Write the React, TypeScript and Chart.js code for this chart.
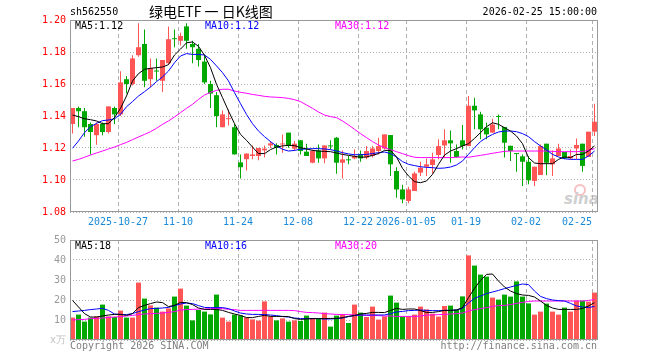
import React, { useEffect, useRef } from 'react';
import { Chart, registerables } from 'chart.js';

Chart.register(...registerables);

// ---------- data ----------
const dates = [
  '2025-10-15', '2025-10-16', '2025-10-17', '2025-10-20', '2025-10-21', '2025-10-22', '2025-10-23', '2025-10-24',
  '2025-10-27', '2025-10-28', '2025-10-29', '2025-10-30', '2025-10-31',
  '2025-11-03', '2025-11-04', '2025-11-05', '2025-11-06', '2025-11-07',
  '2025-11-10', '2025-11-11', '2025-11-12', '2025-11-13', '2025-11-14',
  '2025-11-17', '2025-11-18', '2025-11-19', '2025-11-20', '2025-11-21',
  '2025-11-24', '2025-11-25', '2025-11-26', '2025-11-27', '2025-11-28',
  '2025-12-01', '2025-12-02', '2025-12-03', '2025-12-04', '2025-12-05',
  '2025-12-08', '2025-12-09', '2025-12-10', '2025-12-11', '2025-12-12',
  '2025-12-15', '2025-12-16', '2025-12-17', '2025-12-18', '2025-12-19',
  '2025-12-22', '2025-12-23', '2025-12-24', '2025-12-25', '2025-12-26',
  '2025-12-29', '2025-12-30', '2025-12-31',
  '2026-01-05', '2026-01-06', '2026-01-07', '2026-01-08', '2026-01-09',
  '2026-01-12', '2026-01-13', '2026-01-14', '2026-01-15', '2026-01-16',
  '2026-01-19', '2026-01-20', '2026-01-21', '2026-01-22', '2026-01-23',
  '2026-01-26', '2026-01-27', '2026-01-28', '2026-01-29', '2026-01-30',
  '2026-02-02', '2026-02-03', '2026-02-04', '2026-02-05', '2026-02-06',
  '2026-02-09', '2026-02-10', '2026-02-11', '2026-02-12', '2026-02-13',
  '2026-02-24', '2026-02-25',
];

const open = [
  1.135, 1.145, 1.143, 1.135, 1.128, 1.135, 1.130, 1.145, 1.141, 1.163,
  1.160, 1.178, 1.185, 1.163, 1.1682, 1.162, 1.173, 1.1885, 1.187, 1.196,
  1.185, 1.182, 1.174, 1.160, 1.153, 1.133, 1.138, 1.133, 1.111, 1.113,
  1.115, 1.115, 1.1185, 1.1216, 1.1219, 1.1222, 1.1296, 1.1196, 1.1248, 1.1177,
  1.1108, 1.1185, 1.1135, 1.1214, 1.1264, 1.1108, 1.1127, 1.1135, 1.116, 1.114,
  1.115, 1.1181, 1.1197, 1.1281, 1.1056, 1.0941, 1.0869, 1.0931, 1.1046, 1.1083,
  1.1094, 1.1156, 1.1216, 1.1248, 1.1181, 1.1248, 1.1212, 1.1464, 1.141, 1.1327,
  1.1296, 1.1398, 1.1331, 1.1214, 1.1166, 1.1148, 1.1114, 1.0994, 1.1031, 1.1227,
  1.1098, 1.115, 1.1175, 1.1135, 1.1197, 1.1227, 1.1144, 1.1302,
];

const high = [
  1.145, 1.146, 1.145, 1.136, 1.136, 1.136, 1.146, 1.146, 1.168, 1.165,
  1.178, 1.198, 1.194, 1.176, 1.176, 1.175, 1.196, 1.194, 1.192, 1.198,
  1.187, 1.185, 1.178, 1.162, 1.155, 1.1435, 1.144, 1.135, 1.116, 1.1165,
  1.1216, 1.120, 1.1216, 1.1244, 1.1229, 1.1285, 1.1296, 1.1244, 1.125, 1.1227,
  1.1191, 1.1222, 1.1216, 1.1248, 1.1268, 1.1185, 1.115, 1.1191, 1.1185, 1.1212,
  1.1212, 1.1264, 1.1285, 1.1281, 1.108, 1.097, 1.0958, 1.1052, 1.1114, 1.1135,
  1.117, 1.1254, 1.1317, 1.131, 1.1222, 1.1344, 1.1525, 1.1514, 1.1427, 1.1358,
  1.1383, 1.141, 1.1331, 1.1214, 1.1166, 1.116, 1.115, 1.1083, 1.1222, 1.1227,
  1.1185, 1.1227, 1.1175, 1.1191, 1.126, 1.1227, 1.1302, 1.1477,
];

const low = [
  1.129, 1.133, 1.127, 1.116, 1.122, 1.128, 1.129, 1.135, 1.140, 1.154,
  1.159, 1.177, 1.158, 1.158, 1.162, 1.155, 1.172, 1.183, 1.184, 1.182,
  1.173, 1.171, 1.160, 1.145, 1.133, 1.133, 1.134, 1.116, 1.101, 1.106,
  1.113, 1.1123, 1.114, 1.120, 1.116, 1.117, 1.1202, 1.1181, 1.116, 1.115,
  1.1104, 1.1108, 1.1104, 1.119, 1.1039, 1.101, 1.1098, 1.1129, 1.1114, 1.113,
  1.114, 1.116, 1.1191, 1.1025, 1.0889, 1.0854, 1.0854, 1.0931, 1.1025, 1.1025,
  1.104, 1.113, 1.114, 1.1108, 1.114, 1.119, 1.1212, 1.1317, 1.1254, 1.1254,
  1.1296, 1.1317, 1.114, 1.1119, 1.1052, 1.0963, 1.0973, 1.0963, 1.1031, 1.1031,
  1.1025, 1.115, 1.1129, 1.1129, 1.1129, 1.1052, 1.1144, 1.1275,
];

const close = [
  1.145, 1.143, 1.133, 1.130, 1.135, 1.130, 1.146, 1.141, 1.161, 1.160,
  1.176, 1.183, 1.162, 1.170, 1.1678, 1.175, 1.188, 1.188, 1.190, 1.187,
  1.183, 1.175, 1.161, 1.154, 1.140, 1.141, 1.1386, 1.116, 1.108, 1.1165,
  1.116, 1.120, 1.1196, 1.1229, 1.1202, 1.1228, 1.1213, 1.1227, 1.1181, 1.115,
  1.1181, 1.1135, 1.1216, 1.121, 1.1108, 1.1129, 1.1123, 1.115, 1.1135, 1.1181,
  1.1197, 1.1212, 1.1285, 1.1098, 1.0941, 1.0879, 1.0941, 1.1041, 1.1077, 1.1098,
  1.1129, 1.1212, 1.1248, 1.1229, 1.1144, 1.1212, 1.1464, 1.1435, 1.1317, 1.1285,
  1.1347, 1.1394, 1.1233, 1.1181, 1.1162, 1.1114, 1.0998, 1.1083, 1.1212, 1.1108,
  1.1135, 1.1197, 1.1135, 1.115, 1.1219, 1.1088, 1.1302, 1.1364,
];

const ma5 = [
  1.1406, 1.1396, 1.1383, 1.1377, 1.1369, 1.1352, 1.1352, 1.139, 1.1448, 1.1525,
  1.1619, 1.1665, 1.1692, 1.1698, 1.1702, 1.1706, 1.1721, 1.1781, 1.1818, 1.1857,
  1.1863, 1.1835, 1.178, 1.1702, 1.1598, 1.1515, 1.1431, 1.1352, 1.1285, 1.1248,
  1.1206, 1.1165, 1.1165, 1.119, 1.1206, 1.1213, 1.1217, 1.1215, 1.1202, 1.1194,
  1.1185, 1.1181, 1.1179, 1.1177, 1.1169, 1.116, 1.1154, 1.1148, 1.1142, 1.1144,
  1.1154, 1.1165, 1.1185, 1.1185, 1.1144, 1.1073, 1.1025, 1.099, 1.0983, 1.0994,
  1.1035, 1.1098, 1.1156, 1.1181, 1.1196, 1.1213, 1.1227, 1.126, 1.1296, 1.1333,
  1.1358, 1.1348, 1.1327, 1.1306, 1.1275, 1.1227, 1.114, 1.1106, 1.1102, 1.1102,
  1.1102, 1.1129, 1.1144, 1.114, 1.116, 1.116, 1.1181, 1.1213,
];

const ma10 = [
  1.1198, 1.1244, 1.1296, 1.1333, 1.1354, 1.1371, 1.1375, 1.1383, 1.141, 1.1458,
  1.149, 1.1525, 1.1552, 1.1581, 1.1615, 1.1644, 1.1681, 1.1733, 1.1775, 1.179,
  1.1785, 1.1785, 1.1781, 1.1754, 1.1713, 1.1671, 1.1619, 1.1546, 1.1477, 1.141,
  1.1352, 1.1306, 1.1271, 1.124, 1.1213, 1.1192, 1.1181, 1.1185, 1.1192, 1.1194,
  1.1196, 1.1196, 1.1194, 1.119, 1.1181, 1.1171, 1.1163, 1.1158, 1.1158, 1.116,
  1.1165, 1.1171, 1.1175, 1.1165, 1.1144, 1.1115, 1.1098, 1.109, 1.1083, 1.1079,
  1.1077, 1.1073, 1.1075, 1.1081, 1.1094, 1.1119, 1.116, 1.1202, 1.124, 1.1265,
  1.1285, 1.13, 1.1306, 1.1306, 1.1302, 1.129, 1.1271, 1.124, 1.1213, 1.1188,
  1.116, 1.1144, 1.1133, 1.1129, 1.1129, 1.1129, 1.115, 1.1181,
];

const ma30 = [
  1.1119, 1.1129, 1.1142, 1.1156, 1.1169, 1.1181, 1.1194, 1.1206, 1.1221, 1.1235,
  1.1252, 1.1269, 1.1285, 1.1302, 1.1323, 1.1348, 1.1369, 1.1394, 1.1421, 1.1448,
  1.1473, 1.1504, 1.1531, 1.1548, 1.156, 1.1567, 1.1567, 1.1556, 1.1548, 1.1542,
  1.1535, 1.1529, 1.1523, 1.1519, 1.1517, 1.1515, 1.151, 1.1502, 1.149, 1.1469,
  1.1448, 1.1425, 1.1406, 1.1396, 1.139, 1.1369, 1.1344, 1.1317, 1.129, 1.1265,
  1.124, 1.1219, 1.1202, 1.119, 1.1177, 1.1165, 1.1152, 1.1142, 1.114, 1.114,
  1.114, 1.114, 1.114, 1.114, 1.1142, 1.1144, 1.1142, 1.1148, 1.1154, 1.116,
  1.1167, 1.1173, 1.1179, 1.1181, 1.1181, 1.1181, 1.1181, 1.1181, 1.1181, 1.1181,
  1.1179, 1.1177, 1.1177, 1.1177, 1.1177, 1.1179, 1.1185, 1.1196,
];

const volume = [
  11.2, 12.7, 9.2, 11.2, 11.8, 17.7, 11.8, 11.5, 14.7, 11.2,
  11.2, 28.7, 20.7, 17.3, 16.2, 14.2, 15.8, 21.7, 25.7, 17.2,
  9.8, 15.0, 14.2, 12.8, 22.7, 11.2, 9.2, 12.7, 12.3, 11.2,
  10.3, 9.7, 19.3, 11.8, 9.8, 10.8, 9.2, 9.8, 9.5, 12.2,
  10.8, 10.7, 13.7, 6.7, 12.2, 13.0, 8.5, 17.7, 13.7, 11.5,
  16.7, 10.2, 11.8, 22.2, 18.7, 11.7, 12.0, 12.7, 16.7, 15.3,
  13.2, 11.7, 17.0, 17.2, 15.2, 21.8, 42.3, 37.2, 32.7, 31.7,
  21.2, 20.2, 22.7, 21.7, 29.3, 21.7, 18.3, 12.7, 14.2, 18.2,
  14.2, 12.7, 16.2, 14.2, 19.7, 19.7, 19.2, 23.7,
];

const vma5 = [
  19.8, 16.5, 13.2, 11.5, 11.5, 12.0, 12.5, 12.8, 12.8, 12.3,
  13.2, 16.2, 17.3, 18.2, 19.0, 18.7, 16.7, 17.3, 18.8, 18.7,
  17.7, 16.0, 15.3, 15.3, 15.3, 14.8, 13.8, 13.0, 12.3, 11.2,
  11.2, 11.8, 12.3, 11.8, 11.8, 11.8, 11.7, 10.7, 10.3, 10.5,
  10.7, 10.7, 10.7, 10.8, 10.8, 11.2, 11.8, 12.3, 13.0, 13.3,
  13.8, 13.8, 13.7, 14.8, 15.8, 15.3, 15.5, 15.5, 14.7, 13.8,
  13.8, 14.2, 14.8, 14.8, 15.0, 16.2, 21.2, 25.8, 29.8, 32.8,
  33.0, 29.5, 26.5, 24.5, 23.2, 22.5, 22.3, 21.5, 19.5, 17.3,
  16.0, 15.3, 15.3, 15.3, 15.3, 15.8, 17.0, 18.7,
];

const vma10 = [
  14.2, 14.5, 14.8, 15.2, 15.5, 15.8, 14.8, 13.0, 12.8, 12.7,
  13.2, 14.2, 15.0, 15.7, 15.8, 16.0, 16.3, 17.2, 18.0, 18.5,
  18.2, 17.2, 16.3, 16.2, 16.2, 16.2, 15.7, 14.5, 13.5, 13.0,
  12.8, 12.8, 12.7, 12.5, 12.2, 11.7, 11.5, 11.0, 10.7, 10.7,
  10.7, 10.7, 10.5, 10.5, 10.7, 11.0, 11.7, 12.2, 12.5, 12.5,
  12.5, 12.5, 12.5, 13.2, 14.0, 14.3, 14.7, 14.8, 15.0, 14.8,
  14.7, 14.7, 14.8, 14.8, 15.0, 15.8, 18.5, 20.8, 22.0, 23.2,
  24.0, 24.8, 25.7, 26.5, 27.3, 28.0, 27.7, 24.5, 21.8, 20.7,
  20.0, 19.7, 19.5, 18.3, 17.0, 16.5, 16.2, 16.8,
];

const vma30 = [
  10.0, 10.2, 10.3, 10.7, 10.8, 11.0, 11.3, 11.5, 11.7, 12.0,
  12.3, 12.7, 13.0, 13.2, 13.3, 13.5, 13.8, 14.2, 15.0, 15.2,
  15.3, 15.5, 15.5, 15.7, 15.8, 15.7, 15.3, 15.2, 14.8, 14.8,
  14.8, 14.8, 14.8, 14.8, 14.8, 14.8, 14.8, 14.7, 14.2, 13.8,
  13.7, 13.5, 13.2, 13.0, 12.8, 12.7, 12.7, 12.5, 12.5, 12.3,
  12.2, 12.2, 12.0, 12.0, 11.8, 11.8, 11.8, 11.8, 12.0, 12.5,
  12.5, 12.7, 12.8, 13.0, 13.2, 13.5, 14.5, 15.2, 15.7, 16.2,
  16.8, 17.2, 17.3, 17.7, 18.3, 18.8, 19.3, 19.5, 19.5, 19.5,
  19.5, 19.5, 19.5, 19.5, 19.5, 19.5, 19.8, 20.2,
];

const tickDates = ['2025-10-27', '2025-11-10', '2025-11-24', '2025-12-08', '2025-12-22', '2026-01-05', '2026-01-19', '2026-02-02', '2026-02-25'];
const tickLabels = ['2025-10-27', '11-10', '11-24', '12-08', '12-22', '2026-01-05', '01-19', '02-02', '02-25'];
const priceTicks = [1.08, 1.10, 1.12, 1.14, 1.16, 1.18, 1.20];
const volumeTicks = [0, 10, 20, 30, 40, 50];

// ---------- styles ----------
const RED = '#ff5555';
const GREEN = '#00a800';
const GRID = '#b0b0b0';
const FRAME = '#999999';
const MONO = '"DejaVu Sans Mono", monospace';

const slotX = (i: number) => i + 5 / 12;
const candleColors = close.map((c, i) => (c >= open[i] ? RED : GREEN));

const framePlugin = {
  id: 'frame',
  afterDraw(chart: any) {
    const { ctx, chartArea: a } = chart;
    ctx.save();
    ctx.setLineDash([]);
    ctx.strokeStyle = FRAME;
    ctx.lineWidth = 1;
    ctx.strokeRect(a.left + 0.5, a.top + 0.5, a.right - a.left - 1, a.bottom - a.top - 1);
    ctx.restore();
  },
};

const dateLabelPlugin = {
  id: 'dateLabels',
  afterDraw(chart: any) {
    const { ctx, chartArea: a, scales } = chart;
    ctx.save();
    ctx.font = `10px ${MONO}`;
    ctx.fillStyle = '#1a8ad8';
    ctx.textBaseline = 'middle';
    tickDates.forEach((d, k) => {
      const px = scales.x.getPixelForValue(dates.indexOf(d));
      const label = tickLabels[k];
      const w = ctx.measureText(label).width;
      ctx.textAlign = px + w / 2 > a.right ? 'right' : 'center';
      ctx.fillText(label, px, a.bottom + 10);
    });
    ctx.restore();
  },
};

const xScale = (h: number) => ({
  type: 'linear',
  min: 0,
  max: dates.length,
  offset: false,
  afterBuildTicks: (s: any) => {
    s.ticks = tickDates.map((d) => ({ value: dates.indexOf(d) }));
  },
  afterFit: (s: any) => {
    s.height = h;
  },
  ticks: { display: false },
  grid: { color: GRID, drawTicks: false, offset: false, lineWidth: 1 },
  border: { display: false, dash: [4, 3] },
});

const lineDs = (label: string, values: number[], color: string) => ({
  type: 'line',
  label,
  data: values.map((v, i) => ({ x: slotX(i), y: v })),
  borderColor: color,
  borderWidth: 1,
  pointRadius: 0,
  fill: false,
  tension: 0,
  order: 0,
});

function Txt(props: { left?: number; right?: number; top: number; color?: string; size?: number; family?: string; children: any }) {
  const { left, right, top, color = '#000', size = 10, family = MONO, children } = props;
  return (
    <div
      style={{
        position: 'absolute',
        left,
        right,
        top,
        color,
        fontFamily: family,
        fontSize: size,
        lineHeight: '12px',
        whiteSpace: 'nowrap',
        zIndex: 3,
      }}
    >
      {children}
    </div>
  );
}

export default function App() {
  const priceRef = useRef<HTMLCanvasElement | null>(null);
  const volRef = useRef<HTMLCanvasElement | null>(null);

  useEffect(() => {
    const price = new Chart(priceRef.current as HTMLCanvasElement, {
      type: 'bar',
      data: {
        datasets: [
          lineDs('MA5', ma5, '#000000'),
          lineDs('MA10', ma10, '#0000ff'),
          lineDs('MA30', ma30, '#ff00ff'),
          {
            type: 'bar',
            label: 'body',
            data: open.map((o, i) => ({ x: slotX(i), y: [o, close[i]] })),
            backgroundColor: candleColors,
            borderWidth: 0,
            barThickness: 5,
            minBarLength: 1,
            grouped: false,
            inflateAmount: 0,
            order: 1,
          },
          {
            type: 'bar',
            label: 'wick',
            data: low.map((l, i) => ({ x: slotX(i), y: [l, high[i]] })),
            backgroundColor: candleColors,
            borderWidth: 0,
            barThickness: 1,
            grouped: false,
            inflateAmount: 0,
            order: 2,
          },
        ],
      } as any,
      options: {
        animation: false,
        responsive: false,
        maintainAspectRatio: false,
        events: [],
        layout: { padding: { top: 20, right: 62, left: 0, bottom: 0 } },
        plugins: { legend: { display: false }, tooltip: { enabled: false } },
        scales: {
          x: xScale(18),
          y: {
            type: 'linear',
            min: 1.08,
            max: 1.2,
            afterBuildTicks: (s: any) => {
              s.ticks = priceTicks.map((v) => ({ value: v }));
            },
            afterFit: (s: any) => {
              s.width = 70;
            },
            ticks: {
              color: '#ff0000',
              font: { family: MONO, size: 10 },
              padding: 4,
              callback: (v: any) => Number(v).toFixed(2),
            },
            grid: { color: GRID, drawTicks: false },
            border: { display: false, dash: [1, 2] },
          },
        },
      } as any,
      plugins: [framePlugin, dateLabelPlugin],
    });

    const vol = new Chart(volRef.current as HTMLCanvasElement, {
      type: 'bar',
      data: {
        datasets: [
          lineDs('MA5', vma5, '#000000'),
          lineDs('MA10', vma10, '#0000ff'),
          lineDs('MA30', vma30, '#ff00ff'),
          {
            type: 'bar',
            label: 'volume',
            data: volume.map((v, i) => ({ x: slotX(i), y: v })),
            backgroundColor: candleColors,
            borderWidth: 0,
            barThickness: 5,
            grouped: false,
            inflateAmount: 0,
            order: 1,
          },
        ],
      } as any,
      options: {
        animation: false,
        responsive: false,
        maintainAspectRatio: false,
        events: [],
        layout: { padding: { top: 10, right: 62, left: 0, bottom: 0 } },
        plugins: { legend: { display: false }, tooltip: { enabled: false } },
        scales: {
          x: xScale(20),
          y: {
            type: 'linear',
            min: 0,
            max: 50,
            afterBuildTicks: (s: any) => {
              s.ticks = volumeTicks.map((v) => ({ value: v }));
            },
            afterFit: (s: any) => {
              s.width = 70;
            },
            ticks: {
              color: (c: any) => (c.tick && c.tick.value === 0 ? '#c0c0c0' : '#999999'),
              font: { family: MONO, size: 10 },
              padding: 4,
              callback: (v: any) => (Number(v) === 0 ? 'x万' : String(v)),
            },
            grid: { color: GRID, drawTicks: false },
            border: { display: false, dash: [1, 2] },
          },
        },
      } as any,
      plugins: [framePlugin],
    });

    return () => {
      price.destroy();
      vol.destroy();
    };
  }, []);

  return (
    <div style={{ position: 'absolute', left: 0, top: 0, width: 660, height: 360, background: '#ffffff', overflow: 'hidden' }}>
      {/* sina watermark (behind the chart) */}
      <div
        style={{
          position: 'absolute',
          left: 574,
          top: 184,
          width: 8,
          height: 8,
          borderRadius: '50%',
          border: '2px solid #f6c0c0',
          zIndex: 0,
        }}
      />
      <div
        style={{
          position: 'absolute',
          left: 564,
          top: 191,
          fontFamily: '"DejaVu Sans", sans-serif',
          fontStyle: 'italic',
          fontWeight: 'bold',
          fontSize: 15,
          lineHeight: '16px',
          color: '#cfcfcf',
          zIndex: 0,
        }}
      >
        sina
      </div>
      <canvas ref={priceRef} width={660} height={230} style={{ position: 'absolute', left: 0, top: 0, zIndex: 1 }} />
      <canvas ref={volRef} width={660} height={130} style={{ position: 'absolute', left: 0, top: 230, zIndex: 1 }} />

      <Txt left={70} top={6}>sh562550</Txt>
      <div
        style={{
          position: 'absolute',
          left: 149,
          top: 3,
          fontFamily: '"Noto Sans CJK SC", sans-serif',
          fontSize: 14,
          lineHeight: '16px',
          color: '#000',
          whiteSpace: 'nowrap',
          zIndex: 3,
        }}
      >
        绿电ETF 一 日K线图
      </div>
      <Txt right={63} top={6}>2026-02-25 15:00:00</Txt>

      <Txt left={75} top={20}>MA5:1.12</Txt>
      <Txt left={205} top={20} color="#0000ff">MA10:1.12</Txt>
      <Txt left={335} top={20} color="#ff00ff">MA30:1.12</Txt>

      <Txt left={75} top={240}>MA5:18</Txt>
      <Txt left={205} top={240} color="#0000ff">MA10:16</Txt>
      <Txt left={335} top={240} color="#ff00ff">MA30:20</Txt>

      <Txt left={70} top={340} color="#808080">Copyright 2026 SINA.COM</Txt>
      <Txt right={63} top={340} color="#808080">http://finance.sina.com.cn</Txt>
    </div>
  );
}
